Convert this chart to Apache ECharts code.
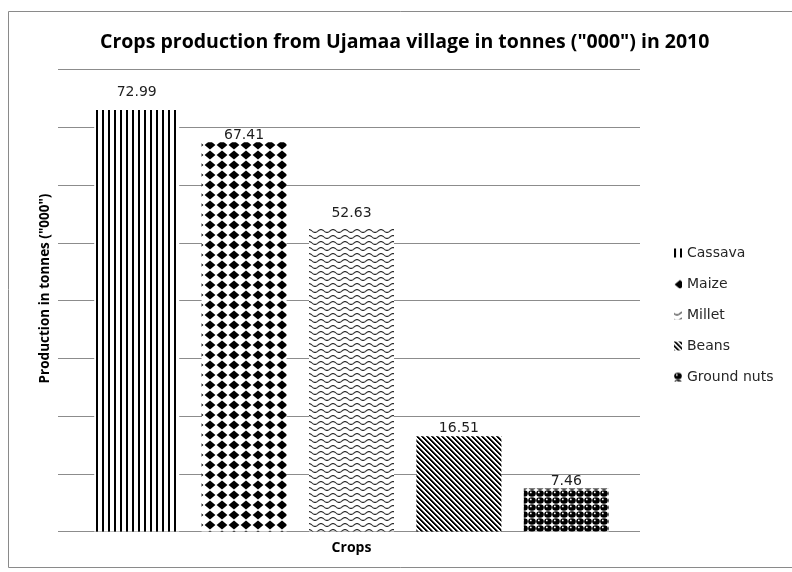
<!DOCTYPE html>
<html>
<head>
<meta charset="utf-8">
<script src="https://cdn.jsdelivr.net/npm/echarts@6/dist/echarts.min.js"></script>
<style>
  html, body { margin: 0; padding: 0; background: #ffffff; }
  #chart { width: 792px; height: 572px; }
</style>
</head>
<body>
<div id="chart"></div>
<script>
// Crop names and production (tonnes, thousands) for 2010
const crops = ['Cassava', 'Maize', 'Millet', 'Beans', 'Ground nuts'];
const production = [72.99, 67.41, 52.63, 16.51, 7.46];
const valueTicks = [0, 10, 20, 30, 40, 50, 60, 70, 80];

// Gap between each bar and its value label
const labelGap = [11, 0, 7, 1, 0];

// ---- hatch patterns drawn on small canvases ----
function tile(w, h, draw) {
  const c = document.createElement('canvas');
  c.width = w; c.height = h;
  const g = c.getContext('2d');
  g.fillStyle = '#ffffff';
  g.fillRect(0, 0, w, h);
  draw(g, w, h);
  return { image: c, repeat: 'repeat' };
}

// vertical lines
const patVertical = tile(6, 6, (g) => {
  g.fillStyle = '#000000';
  g.fillRect(0, 0, 2, 6);
});

// solid diamonds
const patDiamond = tile(12, 10, (g) => {
  g.fillStyle = '#000000';
  g.beginPath();
  g.moveTo(6, 0.4);
  g.lineTo(11.4, 5);
  g.lineTo(6, 9.6);
  g.lineTo(0.6, 5);
  g.closePath();
  g.fill();
});

// waves
const patWave = tile(12, 6, (g) => {
  g.strokeStyle = '#2a2a2a';
  g.lineWidth = 1.1;
  g.beginPath();
  for (let x = 0; x <= 12; x += 0.5) {
    const y = 3 + 1.4 * Math.sin((x / 12) * Math.PI * 2);
    if (x === 0) g.moveTo(x, y); else g.lineTo(x, y);
  }
  g.stroke();
});

// downward diagonal stripes
const patDiagonal = tile(5, 5, (g) => {
  for (let x = 0; x < 5; x++) {
    for (let y = 0; y < 5; y++) {
      const k = ((x - y) % 5 + 5) % 5;
      if (k < 2) { g.fillStyle = '#000000'; g.fillRect(x, y, 1, 1); }
      else if (k === 2) { g.fillStyle = '#777777'; g.fillRect(x, y, 1, 1); }
    }
  }
});

// spheres
const patSphere = tile(8, 7, (g) => {
  g.fillStyle = '#000000';
  g.beginPath();
  g.ellipse(4, 3.5, 3.8, 3.3, 0, 0, Math.PI * 2);
  g.fill();
  g.fillStyle = '#ffffff';
  g.beginPath();
  g.arc(2.8, 2.4, 0.9, 0, Math.PI * 2);
  g.fill();
});

const patterns = [patVertical, patDiamond, patWave, patDiagonal, patSphere];

const chart = echarts.init(document.getElementById('chart'), null, { renderer: 'canvas' });

const series = crops.map((name, i) => ({
  name: name,
  type: 'bar',
  xAxisIndex: 1,
  yAxisIndex: 1,
  data: production.map((v, j) => (j === i ? v : '-')),
  barWidth: 85,
  barGap: '-100%',
  itemStyle: { color: patterns[i] },
  label: {
    show: true,
    position: 'top',
    distance: labelGap[i],
    color: '#1e1e1e',
    fontFamily: 'DejaVu Sans',
    fontSize: 14,
    formatter: (p) => Number(p.value).toFixed(2)
  },
  emphasis: { disabled: true }
}));

chart.setOption({
  animation: false,
  backgroundColor: '#ffffff',
  title: {
    text: 'Crops production from Ujamaa village in tonnes ("000") in 2010',
    left: 95,
    top: 27,
    padding: 5,
    textStyle: {
      fontFamily: 'Open Sans',
      fontWeight: 'bold',
      fontSize: 19.5,
      color: '#000000'
    }
  },
  graphic: [{
    type: 'rect',
    shape: { x: 8.5, y: 11.5, width: 800, height: 556 },
    style: { fill: 'none', stroke: '#8a8a8a', lineWidth: 1 },
    silent: true
  }],
  legend: {
    orient: 'vertical',
    left: 669,
    top: 241,
    itemWidth: 8,
    itemHeight: 9,
    itemGap: 17,
    icon: 'rect',
    textStyle: {
      fontFamily: 'DejaVu Sans',
      fontSize: 14,
      lineHeight: 14,
      color: '#262626'
    },
    selectedMode: false,
    data: crops
  },
  grid: [
    // gridline area
    { left: 58, right: 152, top: 69.5, bottom: 40.5 },
    // bar area
    { left: 83, right: 172, top: 69.5, bottom: 40.5 }
  ],
  xAxis: [
    { type: 'category', gridIndex: 0, data: crops, show: false },
    {
      type: 'category',
      gridIndex: 1,
      data: crops,
      axisLine: { show: false },
      axisTick: { show: false },
      axisLabel: { show: false },
      name: 'Crops',
      nameLocation: 'middle',
      nameGap: 10,
      nameTextStyle: {
        fontFamily: 'Open Sans',
        fontWeight: 'bold',
        fontSize: 14,
        color: '#000000'
      }
    }
  ],
  yAxis: [
    {
      type: 'value',
      gridIndex: 0,
      min: valueTicks[0],
      max: valueTicks[valueTicks.length - 1],
      interval: valueTicks[1] - valueTicks[0],
      axisLine: { show: false },
      axisTick: { show: false },
      axisLabel: { show: false },
      splitLine: { show: true, lineStyle: { color: '#8c8c8c', width: 1 } },
      name: 'Production in tonnes ("000")',
      nameLocation: 'middle',
      nameRotate: 90,
      nameGap: 6,
      nameTextStyle: {
        fontFamily: 'Open Sans',
        fontWeight: 'bold',
        fontSize: 13.5,
        color: '#000000',
        padding: [0, 0, 0, 24]
      }
    },
    {
      type: 'value',
      gridIndex: 1,
      min: valueTicks[0],
      max: valueTicks[valueTicks.length - 1],
      interval: valueTicks[1] - valueTicks[0],
      show: false,
      splitLine: { show: false }
    }
  ],
  series: series
});
</script>
</body>
</html>
